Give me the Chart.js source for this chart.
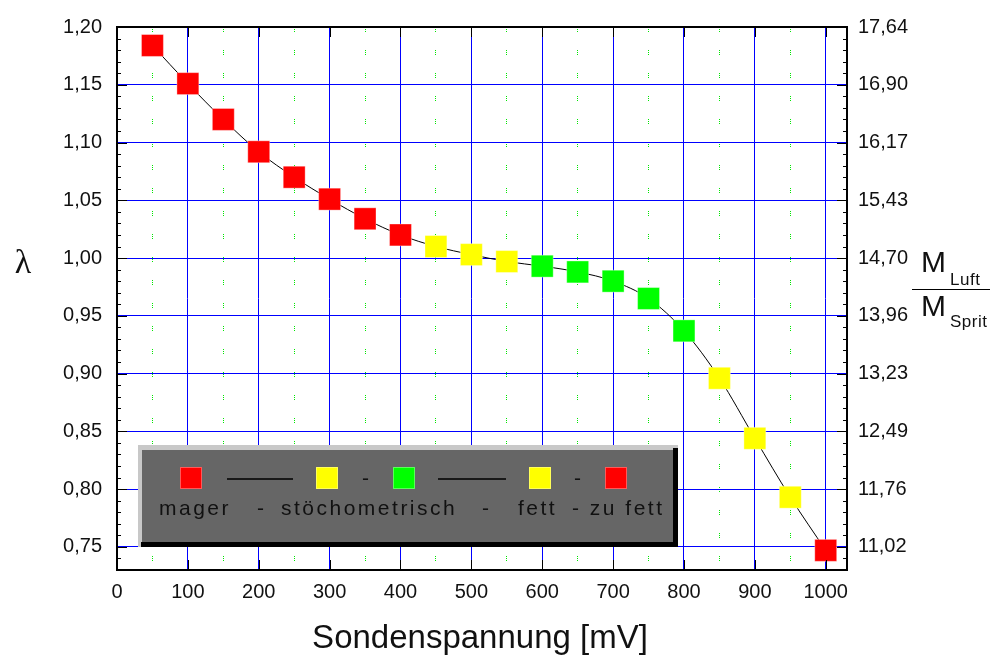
<!DOCTYPE html>
<html>
<head>
<meta charset="utf-8">
<title>Lambda-Sonde</title>
<script src="https://cdn.jsdelivr.net/npm/chart.js@4.4.0/dist/chart.umd.min.js"></script>
<style>
  html, body { margin: 0; padding: 0; background: #fff; }
</style>
</head>
<body>
<canvas id="lambdaChart" width="995" height="659"></canvas>
<script>
/* globals Chart:false */

// Messwerte: Sondenspannung [mV] -> Lambda
const spannung = [50, 100, 150, 200, 250, 300, 350, 400, 450, 500,
                  550, 600, 650, 700, 750, 800, 850, 900, 950, 1000]
const lambda = [1.184, 1.151, 1.120, 1.092, 1.070, 1.051, 1.034, 1.020, 1.010, 1.003,
                0.997, 0.993, 0.988, 0.980, 0.965, 0.937, 0.896, 0.844, 0.793, 0.747]
const ROT = '#ff0000', GELB = '#ffff00', GRUEN = '#00ff00'
const punktFarben = [ROT, ROT, ROT, ROT, ROT, ROT, ROT, ROT, GELB, GELB,
                     GELB, GRUEN, GRUEN, GRUEN, GRUEN, GRUEN, GELB, GELB, GELB, ROT]

// Achsen
const xTicks = [0, 100, 200, 300, 400, 500, 600, 700, 800, 900, 1000]
const xHilfslinien = [50, 150, 250, 350, 450, 550, 650, 750, 850, 950]
const lambdaTicks = [0.75, 0.80, 0.85, 0.90, 0.95, 1.00, 1.05, 1.10, 1.15, 1.20]
const luftSpritLabels = ['11,02', '11,76', '12,49', '13,23', '13,96', '14,70', '15,43', '16,17', '16,90', '17,64']

const SCHRIFT = '"Liberation Sans", Arial, sans-serif'

// Rahmen mit den kleinen Strichen nach innen
const rahmen = {
  id: 'rahmen',
  afterDatasetsDraw(chart) {
    const { ctx, chartArea: a, scales } = chart
    ctx.save()
    ctx.strokeStyle = '#000'
    ctx.lineWidth = 1
    ctx.beginPath()
    for (let i = 73; i <= 120; i++) {
      const v = i / 100
      const y = Math.round(scales.y.getPixelForValue(v)) + 0.5
      const len = i % 5 === 0 ? 10 : 4
      ctx.moveTo(a.left, y); ctx.lineTo(a.left + len, y)
      ctx.moveTo(a.right, y); ctx.lineTo(a.right - len, y)
    }
    xTicks.forEach(v => {
      const x = Math.round(scales.x.getPixelForValue(v)) + 0.5
      ctx.moveTo(x, a.bottom); ctx.lineTo(x, a.bottom - 10)
      ctx.moveTo(x, a.top); ctx.lineTo(x, a.top + 10)
    })
    ctx.stroke()
    ctx.lineWidth = 2
    ctx.strokeRect(Math.round(a.left), Math.round(a.top), Math.round(a.right - a.left), Math.round(a.bottom - a.top))
    ctx.restore()
  }
}

// Legendenkasten und Achsentitel
const beschriftung = {
  id: 'beschriftung',
  afterDraw(chart) {
    const ctx = chart.ctx
    ctx.save()

    // Kasten mit 3D-Rand
    ctx.fillStyle = '#c8c8c8'
    ctx.fillRect(138, 445, 540, 102)
    ctx.fillStyle = '#000'
    ctx.fillRect(141, 542, 537, 5)
    ctx.fillRect(673, 448, 5, 99)
    ctx.fillStyle = '#666666'
    ctx.fillRect(142, 450, 531, 92)

    const marker = [[191, ROT], [327, GELB], [404, GRUEN], [540, GELB], [616, ROT]]
    marker.forEach(([x, farbe]) => {
      ctx.fillStyle = farbe
      ctx.fillRect(x - 11, 467, 22, 22)
      ctx.strokeStyle = 'rgba(255,255,255,0.35)'
      ctx.lineWidth = 1
      ctx.strokeRect(x - 10.5, 467.5, 21, 21)
    })
    ctx.strokeStyle = '#000'
    ctx.lineWidth = 1.5
    ctx.beginPath()
    ctx.moveTo(227, 479); ctx.lineTo(293, 479)
    ctx.moveTo(438, 479); ctx.lineTo(506, 479)
    ctx.stroke()

    ctx.fillStyle = '#111'
    ctx.font = '21px ' + SCHRIFT
    ctx.textBaseline = 'alphabetic'
    ctx.textAlign = 'left'
    ctx.fillText('-', 362, 485)
    ctx.fillText('-', 574, 485)
    ctx.letterSpacing = '2.5px'
    const woerter = [['mager', 159], ['-', 257], ['stöchometrisch', 281], ['-', 482], ['fett', 518], ['- zu fett', 572]]
    woerter.forEach(([t, x]) => ctx.fillText(t, x, 515))
    ctx.letterSpacing = '0px'

    // x-Achsentitel
    ctx.font = '33px ' + SCHRIFT
    ctx.textAlign = 'center'
    ctx.fillText('Sondenspannung [mV]', 480, 648)

    // linke Achse: Lambda
    ctx.font = '34px "Liberation Serif", "DejaVu Serif", serif'
    ctx.fillText('λ', 23, 273)

    // rechte Achse: Luft/Sprit-Verhältnis als Bruch
    ctx.textAlign = 'left'
    ctx.font = '30px ' + SCHRIFT
    ctx.fillText('M', 921, 272)
    ctx.fillText('M', 921, 316)
    ctx.font = '17px ' + SCHRIFT
    ctx.letterSpacing = '0.5px'
    ctx.fillText('Luft', 950, 285)
    ctx.fillText('Sprit', 950, 327)
    ctx.letterSpacing = '0px'
    ctx.strokeStyle = '#000'
    ctx.lineWidth = 1
    ctx.beginPath()
    ctx.moveTo(912, 289.5); ctx.lineTo(990, 289.5)
    ctx.stroke()
    ctx.restore()
  }
}

const tickFont = { family: SCHRIFT, size: 20 }
const komma = v => v.toFixed(2).replace('.', ',')

const ctx = document.getElementById('lambdaChart')
const lambdaChart = new Chart(ctx, {
  type: 'line',
  data: {
    datasets: [{
      data: spannung.map((x, i) => ({ x: x, y: lambda[i] })),
      borderColor: '#000',
      borderWidth: 1,
      cubicInterpolationMode: 'monotone',
      pointStyle: 'rect',
      pointRadius: 15.5,
      pointBackgroundColor: punktFarben,
      pointBorderColor: 'rgba(255,255,255,0.35)',
      pointBorderWidth: 1
    }]
  },
  options: {
    responsive: false,
    animation: false,
    events: [],
    layout: { padding: { top: 18, left: 0, right: 0, bottom: 0 } },
    plugins: { legend: { display: false }, tooltip: { enabled: false } },
    scales: {
      x: {
        type: 'linear', position: 'bottom', min: 0, max: 1030,
        afterBuildTicks: s => { s.ticks = xTicks.map(v => ({ value: v })) },
        afterFit: s => { s.height = 89 },
        grid: { color: '#0000ff', lineWidth: 1, drawTicks: false },
        border: { display: false },
        ticks: { padding: 10, color: '#111', font: tickFont, maxRotation: 0, autoSkip: false, callback: v => String(v) }
      },
      x2: {
        type: 'linear', position: 'top', min: 0, max: 1030,
        afterBuildTicks: s => { s.ticks = xHilfslinien.map(v => ({ value: v })) },
        afterFit: s => { s.height = 0 },
        grid: { color: '#00e600', lineWidth: 1, drawTicks: false },
        border: { display: false, dash: [1, 1, 1, 1, 1, 18] },
        ticks: { display: false }
      },
      y: {
        type: 'linear', position: 'left', min: 0.73, max: 1.20,
        afterBuildTicks: s => { s.ticks = lambdaTicks.map(v => ({ value: v })) },
        afterFit: s => { s.width = 117 },
        grid: { color: '#0000ff', lineWidth: 1, drawTicks: false },
        border: { display: false },
        ticks: { padding: 15, color: '#111', font: tickFont, callback: v => komma(v) }
      },
      y2: {
        type: 'linear', position: 'right', min: 0.73, max: 1.20,
        afterBuildTicks: s => { s.ticks = lambdaTicks.map(v => ({ value: v })) },
        afterFit: s => { s.width = 148 },
        grid: { display: false, drawTicks: false },
        border: { display: false },
        ticks: { padding: 11, color: '#111', font: tickFont, callback: (v, i) => luftSpritLabels[i] }
      }
    }
  },
  plugins: [rahmen, beschriftung]
})
</script>
</body>
</html>
